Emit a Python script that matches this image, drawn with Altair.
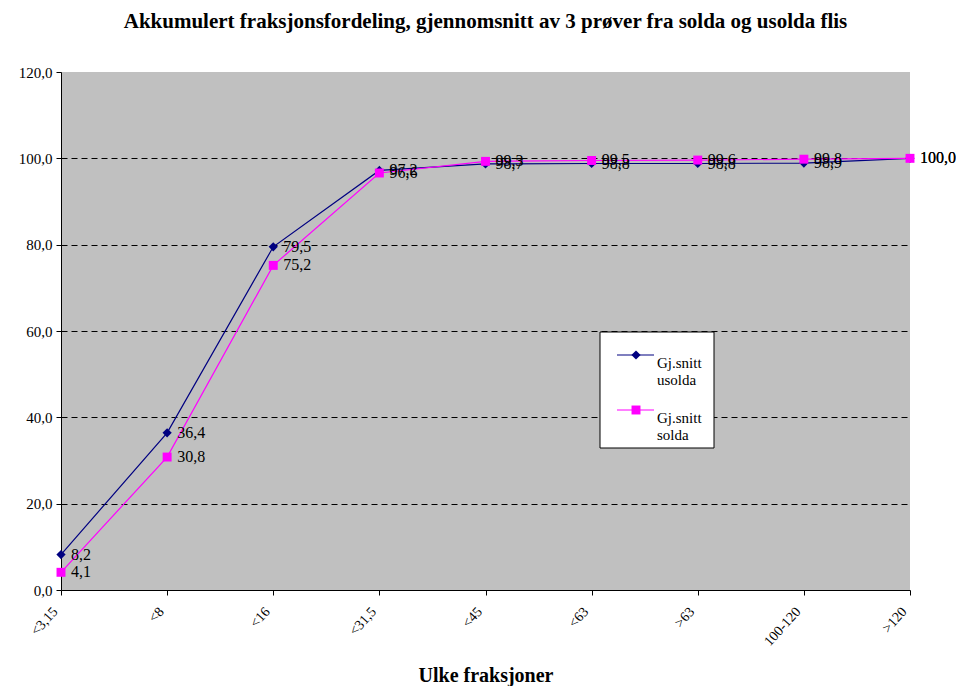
import altair as alt
import pandas as pd

categories = ["<3,15", "<8", "<16", "<31,5", "<45", "<63", ">63", "100-120", ">120"]
usolda = [8.2, 36.4, 79.5, 97.2, 98.7, 98.8, 98.8, 98.9, 100.0]
solda = [4.1, 30.8, 75.2, 96.6, 99.3, 99.5, 99.6, 99.8, 100.0]
series_names = ["Gj.snitt usolda", "Gj.snitt solda"]
series_colors = ["#000080", "#FF00FF"]
series_shapes = ["diamond", "square"]

rows = []
for name, vals in zip(series_names, [usolda, solda]):
    for c, v in zip(categories, vals):
        rows.append({"kat": c, "verdi": v, "serie": name})
df = pd.DataFrame(rows)

FONT = "Liberation Serif"

xenc = alt.X("kat:N", sort=categories, scale=alt.Scale(type="point", padding=0),
             axis=alt.Axis(title="Ulke fraksjoner", labelAngle=-48, labelAlign="right",
                           labelBaseline="middle", labelPadding=14, labelOffset=-6,
                           tickSize=5,
                           tickColor="black", domainColor="black", labelColor="black",
                           labelFont=FONT, labelFontSize=14, titleFont=FONT,
                           titleFontSize=20, titleFontWeight="bold", titleY=85,
                           titleBaseline="middle", grid=False))
yenc = alt.Y("verdi:Q", scale=alt.Scale(domain=[0, 120], nice=False),
             axis=alt.Axis(title=None, values=[0, 20, 40, 60, 80, 100, 120],
                           labelExpr="replace(format(datum.value, '.1f'), '.', ',')",
                           grid=True, gridColor="black", gridDash=[6, 4], gridWidth=1,
                           gridOpacity={"condition": {"test": "datum.value >= 120 || datum.value <= 0", "value": 0}, "value": 1},
                           tickSize=5, tickColor="black", domainColor="black",
                           labelColor="black", labelFont=FONT, labelFontSize=15,
                           labelPadding=4))

def msize(shape):
    return 85 if shape == "diamond" else 80

layers = []
for name, color, shape in zip(series_names, series_colors, series_shapes):
    sub = df[df["serie"] == name]
    base = alt.Chart(sub).encode(x=xenc, y=yenc)
    layers.append(base.mark_line(color=color, strokeWidth=1.2))
for name, color, shape in zip(series_names, series_colors, series_shapes):
    sub = df[df["serie"] == name]
    base = alt.Chart(sub).encode(x=xenc, y=yenc)
    layers.append(base.mark_point(shape=shape, filled=True, color=color, opacity=1,
                                  size=msize(shape)))
for name in series_names:
    sub = df[df["serie"] == name]
    base = alt.Chart(sub).encode(x=xenc, y=yenc)
    layers.append(base.transform_calculate(
        lbl="replace(format(datum.verdi, '.1f'), '.', ',')"
    ).mark_text(align="left", baseline="middle", dx=10, font=FONT, fontSize=16,
                color="black").encode(text="lbl:N"))

# manual legend
dummy = alt.Data(values=[{"a": 1}])
layers.append(alt.Chart(dummy).mark_rect(fill="white", stroke="black", strokeWidth=1).encode(
    x=alt.value(539), x2=alt.value(653), y=alt.value(260), y2=alt.value(376)))
for i, (name, color, shape) in enumerate(zip(series_names, series_colors, series_shapes)):
    yy = 283 + i * 55
    layers.append(alt.Chart(dummy).mark_rule(color=color, strokeWidth=1.2).encode(
        x=alt.value(556), x2=alt.value(593), y=alt.value(yy)))
    layers.append(alt.Chart(dummy).mark_point(shape=shape, filled=True, color=color, opacity=1,
                                              size=msize(shape)).encode(
        x=alt.value(575), y=alt.value(yy)))
    layers.append(alt.Chart(dummy).mark_text(align="left", baseline="middle", font=FONT,
                                             fontSize=15, lineHeight=17, lineBreak=" ",
                                             color="black").encode(
        x=alt.value(596), y=alt.value(yy + 8), text=alt.value(name)))

chart = alt.layer(*layers).properties(
    width=849, height=518,
    title=alt.TitleParams("Akkumulert fraksjonsfordeling, gjennomsnitt av 3 prøver fra solda og usolda flis",
                          font=FONT, fontSize=21, fontWeight="bold", color="black",
                          anchor="middle", offset=33),
    autosize=alt.AutoSizeParams(type="none"),
    padding={"left": 53, "top": 64, "right": 46, "bottom": 96},
    background="white",
).configure_view(fill="#C0C0C0", strokeWidth=0)

chart.save("out.html", embed_options={"renderer": "svg", "actions": False})
